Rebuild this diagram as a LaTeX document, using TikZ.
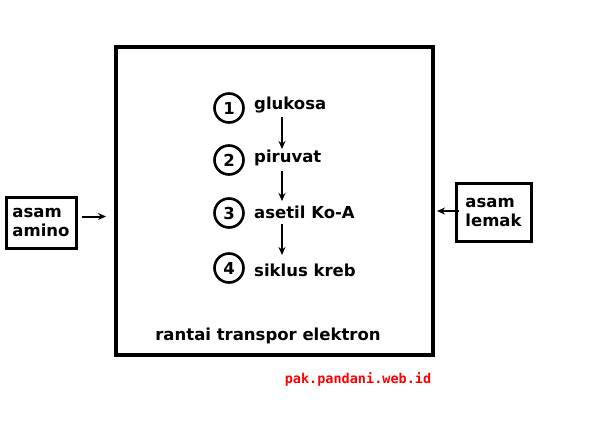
\documentclass[tikz,border=0pt]{standalone}
\usepackage{fontspec}
\setmainfont{DejaVu Sans}
\newfontfamily\monof{DejaVu Sans Mono}
\usetikzlibrary{arrows.meta}
\begin{document}
\begin{tikzpicture}[x=1pt,y=-1pt,
  lbl/.style={font=\bfseries\fontsize{16.5}{19}\selectfont,anchor=west,inner sep=0},
  num/.style={circle,draw,line width=2.6pt,minimum size=29pt,inner sep=0,font=\bfseries\fontsize{16.5}{18}\selectfont},
  side/.style={draw,line width=3pt,align=left,font=\bfseries\fontsize{16.5}{19}\selectfont,inner sep=2pt},
  arr/.style={-{Stealth[length=8pt,width=7pt]},line width=2pt}]
\useasboundingbox (0,0) rectangle (607,433);
\node[draw,line width=3.2pt,minimum width=317pt,minimum height=308pt,inner sep=0] (box) at (274.5,201) {};
\node[num] (n1) at (229,108) {1};
\node[num] (n2) at (229,160) {2};
\node[num] (n3) at (229,213) {3};
\node[num] (n4) at (229,268) {4};
\node[lbl] (t1) at (254,105) {glukosa};
\node[lbl] (t2) at (254,158) {piruvat};
\node[lbl] (t3) at (254,212) {asetil Ko-A};
\node[lbl] (t4) at (254,270) {siklus kreb};
\coordinate (a1) at (282,117); \coordinate (b1) at (282,149);
\coordinate (a2) at (282,171); \coordinate (b2) at (282,201);
\coordinate (a3) at (282,224); \coordinate (b3) at (282,255);
\draw[arr] (a1) -- (b1);
\draw[arr] (a2) -- (b2);
\draw[arr] (a3) -- (b3);
\node[font=\bfseries\fontsize{16.5}{19}\selectfont] (rte) at (268,336) {rantai transpor elektron};
\node[side,minimum width=70pt,minimum height=51pt] (am) at (41,222.5) {asam\\amino};
\node[side,minimum width=75pt,minimum height=58pt] (lm) at (493.5,212) {asam\\lemak};
\draw[arr] (am.east) ++(4,-6) coordinate (c1) -- (106,216.5);
\draw[arr] (lm.west) ++(4,-1) coordinate (c2) -- (437,211);
\node[text=red,font=\monof\bfseries\fontsize{13.5}{15}\selectfont] (web) at (358,379) {pak.pandani.web.id};
\end{tikzpicture}
\end{document}
